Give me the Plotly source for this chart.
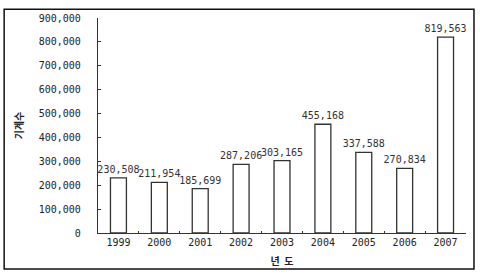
import plotly.graph_objects as go

years = ["1999", "2000", "2001", "2002", "2003", "2004", "2005", "2006", "2007"]
counts = [230508, 211954, 185699, 287206, 303165, 455168, 337588, 270834, 819563]
y_ticks = [0, 100000, 200000, 300000, 400000, 500000, 600000, 700000, 800000, 900000]
y_tick_text = ["0", "100,000", "200,000", "300,000", "400,000", "500,000",
               "600,000", "700,000", "800,000", "900,000"]
labels = [f"{v:,}" for v in counts]

mono = "DejaVu Sans Mono"

fig = go.Figure(go.Bar(
    x=years, y=counts,
    marker=dict(color="white", line=dict(color="#333333", width=1.3)),
    text=labels, textposition="outside", cliponaxis=False,
    constraintext="none",
    textfont=dict(family=mono, size=10, color="#333333"),
    width=0.39,
))

fig.update_layout(
    width=480, height=277,
    margin=dict(l=98, r=14, t=12, b=44),
    paper_bgcolor="white", plot_bgcolor="white",
    showlegend=False,
    xaxis=dict(
        showline=True, linecolor="#333333", linewidth=1.3,
        ticks="inside", tickson="boundaries", ticklen=2, tickcolor="#333333",
        tickfont=dict(family=mono, size=10, color="#222222"),
        title=dict(text="<b>년  도</b>", font=dict(family="Noto Sans CJK KR", size=10, color="#222222"),
                   standoff=10),
        showgrid=False,
    ),
    yaxis=dict(
        range=[0, 900000],
        tickvals=y_ticks, ticktext=y_tick_text,
        showline=True, linecolor="#333333", linewidth=1.3,
        ticks="inside", ticklen=3, tickcolor="#333333",
        tickfont=dict(family=mono, size=10, color="#222222"),
        showgrid=False, zeroline=False,
        ticklabelstandoff=14,
        title=dict(text="<b>기계수</b>", font=dict(family="Noto Sans CJK KR", size=10, color="#222222"),
                   standoff=13),
    ),
    shapes=[dict(type="rect", xref="paper", yref="paper",
                 x0=-0.255, x1=1.0217, y0=-0.167, y1=1.0407,
                 line=dict(color="#111111", width=1.5), layer="below")],
)

fig.write_html("out.html")
